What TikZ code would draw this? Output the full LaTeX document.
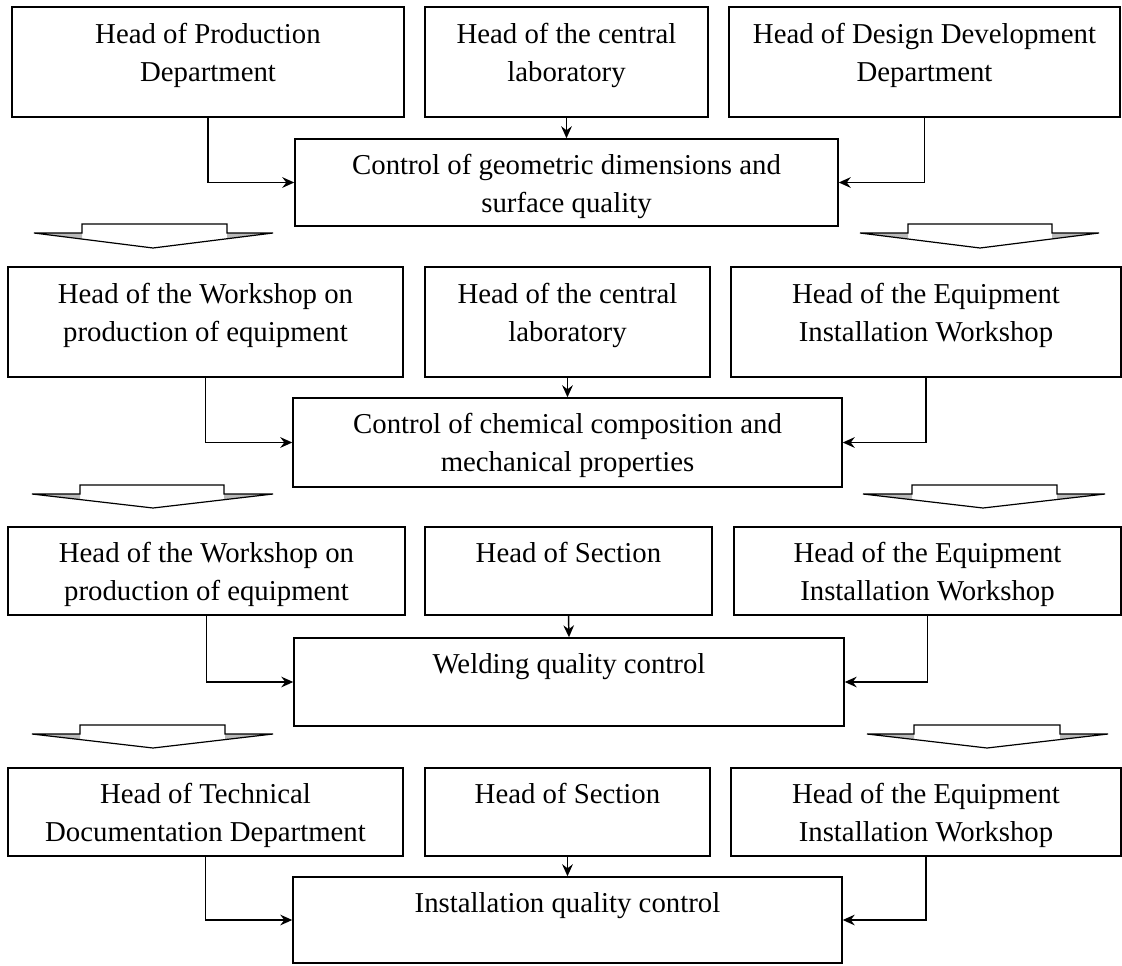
\documentclass[tikz,border=0pt]{standalone}
\usepackage{fontspec}
\setmainfont{Liberation Serif}
\usetikzlibrary{arrows.meta,fit}

% wide hollow arrow between two levels of the scheme:
% #1 left wing, #2/#3 stem edges, #4 right wing, #5 stem top,
% #6 shoulder level, #7/#8 tip
\newcommand\blockdown[8]{%
  \fill[white] (#2,#6) -- (#2,#5) -- (#3,#5) -- (#3,#6) -- (#4,#6)
    -- (#7,#8) -- (#1,#6) -- cycle;
  \fill[wing] (#1,#6) -- (#2,#6) -- (#2,{#6+(#2-#1)*(#8-#6)/(#7-#1)}) -- cycle;
  \fill[wing] (#4,#6) -- (#3,#6) -- (#3,{#6+(#4-#3)*(#8-#6)/(#4-#7)}) -- cycle;
  \draw[blockarrow] (#2,#6) -- (#2,#5) -- (#3,#5) -- (#3,#6) -- (#4,#6)
    -- (#7,#8) -- (#1,#6) -- cycle;
}

\begin{document}
\begin{tikzpicture}[x=0.75pt,y=-0.75pt,
  box/.style={draw=black, line width=1.1pt, inner sep=0pt},
  % anchor=base sits on the last line of the text
  txt/.style={align=center, inner sep=0pt, anchor=base,
    font=\fontsize{21.6pt}{28.5pt}\selectfont},
  conn/.style={draw=black, line width=1.1pt,
    -{Stealth[length=9pt,width=8pt,inset=3pt]}},
  blockarrow/.style={draw=black, line width=0.9pt, line join=miter},
  wing/.style={fill=gray!55, draw=none}]

\useasboundingbox (0,0) rectangle (1122,965);

% ---------- level 1: geometry and surface ----------
\node[box, fit={(12,7) (404,117)}] (l1) {};
\node[box, fit={(425,7) (708,117)}] (m1) {};
\node[box, fit={(729,7) (1120,117)}] (r1) {};
\node[box, fit={(295,139) (838,226)}] (c1) {};
\node[txt] (l1t) at (208,81) {Head of Production\\Department};
\node[txt] (m1t) at (566.5,81) {Head of the central\\laboratory};
\node[txt] (r1t) at (924.5,81) {Head of Design Development\\Department};
\node[txt] (c1t) at (566.5,212) {Control of geometric dimensions and\\surface quality};
\draw[conn] (l1) |- (c1);
\draw[conn] (r1) |- (c1);
\draw[conn] (m1.south) -- (c1.north);

\blockdown{34}{82}{227}{273}{224}{233}{153}{248}
\blockdown{860}{908}{1052}{1099}{224}{233}{980}{248}

% ---------- level 2: chemistry and mechanics ----------
\node[box, fit={(8,267) (403,377)}] (l2) {};
\node[box, fit={(425,267) (710,377)}] (m2) {};
\node[box, fit={(731,267) (1121,377)}] (r2) {};
\node[box, fit={(293,398) (842,487)}] (c2) {};
\node[txt] (l2t) at (205.5,341) {Head of the Workshop on\\production of equipment};
\node[txt] (m2t) at (567.5,341) {Head of the central\\laboratory};
\node[txt] (r2t) at (926,341) {Head of the Equipment\\Installation Workshop};
\node[txt] (c2t) at (567.5,471) {Control of chemical composition and\\mechanical properties};
\draw[conn] (l2) |- (c2);
\draw[conn] (r2) |- (c2);
\draw[conn] (m2.south) -- (c2.north);

\blockdown{32}{80}{224}{273}{485}{494}{153}{508}
\blockdown{863}{912}{1057}{1105}{485}{494}{983}{508}

% ---------- level 3: welding ----------
\node[box, fit={(8,527) (405,615)}] (l3) {};
\node[box, fit={(425,527) (712,615)}] (m3) {};
\node[box, fit={(734,527) (1121,615)}] (r3) {};
\node[box, fit={(294,638) (844,726)}] (c3) {};
\node[txt] (l3t) at (206.5,600) {Head of the Workshop on\\production of equipment};
\node[txt] (m3t) at (568.5,562) {Head of Section};
\node[txt] (r3t) at (927.5,600) {Head of the Equipment\\Installation Workshop};
\node[txt] (c3t) at (569,673) {Welding quality control};
\draw[conn] (l3) |- (c3);
\draw[conn] (r3) |- (c3);
\draw[conn] (m3.south) -- (c3.north);

\blockdown{32}{80}{225}{273}{725}{734}{153}{748}
\blockdown{867}{914}{1060}{1108}{725}{734}{987}{748}

% ---------- level 4: installation ----------
\node[box, fit={(8,768) (403,856)}] (l4) {};
\node[box, fit={(425,768) (710,856)}] (m4) {};
\node[box, fit={(731,768) (1121,856)}] (r4) {};
\node[box, fit={(293,877) (842,963)}] (c4) {};
\node[txt] (l4t) at (205.5,841) {Head of Technical\\Documentation Department};
\node[txt] (m4t) at (567.5,803) {Head of Section};
\node[txt] (r4t) at (926,841) {Head of the Equipment\\Installation Workshop};
\node[txt] (c4t) at (567.5,912) {Installation quality control};
\draw[conn] (l4) |- (c4);
\draw[conn] (r4) |- (c4);
\draw[conn] (m4.south) -- (c4.north);

\end{tikzpicture}
\end{document}
